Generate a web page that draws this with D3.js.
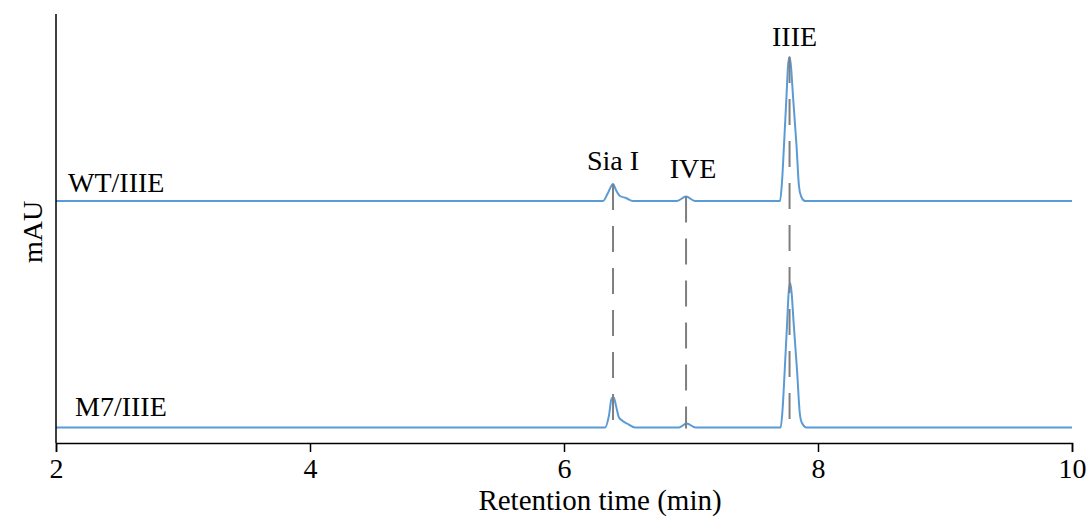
<!DOCTYPE html>
<html>
<head>
<meta charset="utf-8">
<script src="https://cdn.jsdelivr.net/npm/d3@7"></script>
<style>
  body { margin: 0; background: #fff; }
</style>
</head>
<body>
<script>
// chromatogram points (min, mAU above baseline)
const wtTime = [2.0, 6.307, 6.346, 6.386, 6.409, 6.441, 6.488, 6.543, 6.89, 6.961, 7.031,
  7.701, 7.717, 7.732, 7.752, 7.764, 7.776, 7.787, 7.803, 7.831, 7.85, 7.866, 7.898, 10.0];
const wtSignal = [0, 0, 8, 17, 11, 5, 3, 0, 0, 4.5, 0,
  0, 20, 55, 105, 135, 144, 135, 105, 55, 15, 5, 0, 0];

const m7Time = [2.0, 6.323, 6.354, 6.375, 6.392, 6.409, 6.433, 6.457, 6.496, 6.559, 6.904, 6.966, 7.036,
  7.706, 7.722, 7.737, 7.757, 7.769, 7.781, 7.792, 7.808, 7.836, 7.856, 7.872, 7.91, 10.0];
const m7Signal = [0, 0, 12, 29, 30, 22, 10, 7, 4, 0, 0, 4, 0,
  0, 20, 55, 105, 135, 144.5, 135, 105, 55, 15, 5, 0, 0];

const traceNames = ["WT/IIIE", "M7/IIIE"];
const traceOffsets = [242, 15.5];

const peakNames = ["Sia I", "IVE", "IIIE"];
const peakTimes = [6.386, 6.961, 7.776];
const peakHeights = [17, 4.5, 144];

const xTicks = [2, 4, 6, 8, 10];

const width = 1092, height = 519;
const margin = { top: 14, right: 20, bottom: 76, left: 56 };
const serif = "'Liberation Serif', Tinos, 'Times New Roman', 'DejaVu Serif', serif";

const svg = d3.select("body").append("svg")
  .attr("width", width)
  .attr("height", height)
  .attr("font-family", serif);

const x = d3.scaleLinear()
  .domain([2, 10])
  .range([margin.left, width - margin.right]);

const y = d3.scaleLinear()
  .domain([0, 429])
  .range([height - margin.bottom, margin.top]);

const line = d3.line()
  .x(d => x(d[0]))
  .y(d => y(d[1]))
  .curve(d3.curveMonotoneX);

const traces = [
  d3.zip(wtTime, wtSignal.map(v => v + traceOffsets[0])),
  d3.zip(m7Time, m7Signal.map(v => v + traceOffsets[1]))
];

svg.append("g")
  .selectAll("path")
  .data(traces)
  .join("path")
  .attr("d", line)
  .attr("fill", "none")
  .attr("stroke", "#5b9bd5")
  .attr("stroke-width", 2);

// dashed guides from top apex to lower baseline
svg.append("g")
  .selectAll("line")
  .data(peakTimes)
  .join("line")
  .attr("x1", d => x(d))
  .attr("x2", d => x(d))
  .attr("y1", (d, i) => y(traceOffsets[0] + peakHeights[i]))
  .attr("y2", y(traceOffsets[1]) + 1)
  .attr("stroke", "#7f7f7f")
  .attr("stroke-width", 2)
  .attr("stroke-dasharray", "26,16");

// peak labels
const labelDx = [0, 7, 5];
const labelDy = [-14, -19, -11];
svg.append("g")
  .selectAll("text")
  .data(peakNames)
  .join("text")
  .attr("x", (d, i) => x(peakTimes[i]) + labelDx[i])
  .attr("y", (d, i) => y(traceOffsets[0] + peakHeights[i]) + labelDy[i])
  .attr("text-anchor", "middle")
  .attr("font-family", serif)
  .attr("font-size", 28)
  .text(d => d);

// trace labels
svg.append("text")
  .attr("x", x(2) + 12)
  .attr("y", y(traceOffsets[0]) - 9)
  .attr("font-family", serif)
  .attr("font-size", 28)
  .text(traceNames[0]);

svg.append("text")
  .attr("x", x(2) + 19)
  .attr("y", y(traceOffsets[1]) - 12)
  .attr("font-family", serif)
  .attr("font-size", 28)
  .text(traceNames[1]);

// x axis
const xAxis = svg.append("g")
  .attr("transform", `translate(0,${height - margin.bottom})`)
  .call(d3.axisBottom(x).tickValues(xTicks).tickSize(9).tickPadding(6).tickFormat(d3.format("d")))
  .attr("font-family", serif)
  .attr("font-size", 28);
xAxis.select(".domain").attr("stroke", "#000").attr("stroke-width", 1.5);
xAxis.selectAll(".tick line").attr("stroke", "#000").attr("stroke-width", 1.5);
xAxis.selectAll(".tick text").attr("fill", "#000");

// y axis line only
svg.append("line")
  .attr("x1", x(2))
  .attr("x2", x(2))
  .attr("y1", margin.top)
  .attr("y2", height - margin.bottom)
  .attr("stroke", "#000")
  .attr("stroke-width", 1.5);

svg.append("text")
  .attr("x", 600)
  .attr("y", 510)
  .attr("text-anchor", "middle")
  .attr("font-family", serif)
  .attr("font-size", 29)
  .text("Retention time (min)");

svg.append("text")
  .attr("transform", "translate(42,232) rotate(-90)")
  .attr("text-anchor", "middle")
  .attr("font-family", serif)
  .attr("font-size", 28)
  .text("mAU");
</script>
</body>
</html>
